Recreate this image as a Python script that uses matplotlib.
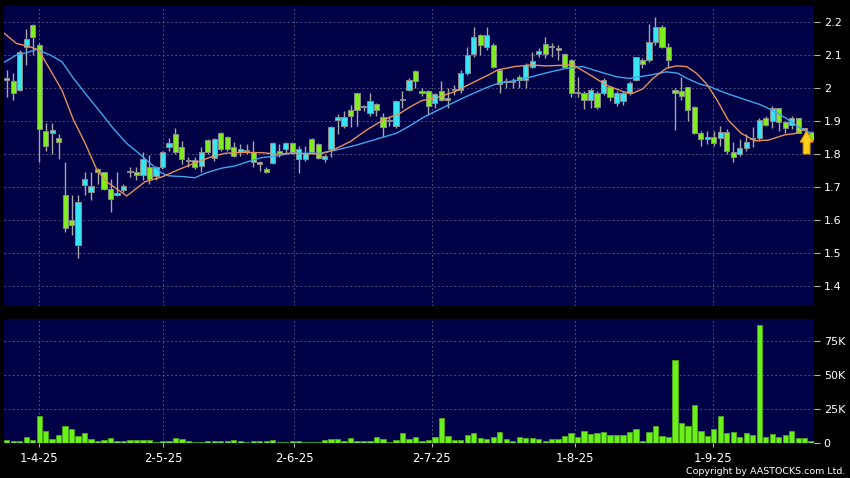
import numpy as np
import matplotlib
matplotlib.use('Agg')
import matplotlib.pyplot as plt
from matplotlib.patches import FancyArrow

# daily candles (oldest first)
opens = [2.03, 2.02, 1.995, 2.125, 2.19, 2.13, 1.87, 1.865, 1.85, 1.675,
         1.60, 1.525, 1.705, 1.685, 1.755, 1.745, 1.695, 1.675, 1.692, 1.744,
         1.745, 1.735, 1.762, 1.733, 1.762, 1.822, 1.862, 1.822, 1.782, 1.782,
         1.765, 1.842, 1.787, 1.863, 1.852, 1.822, 1.807, 1.811, 1.805, 1.773,
         1.755, 1.772, 1.806, 1.814, 1.832, 1.784, 1.784, 1.844, 1.83, 1.785,
         1.814, 1.903, 1.885, 1.933, 1.984, 1.944, 1.923, 1.952, 1.913, 1.901,
         1.885, 1.963, 1.994, 2.052, 1.992, 1.992, 1.955, 1.992, 1.967, 1.995,
         1.994, 2.045, 2.103, 2.16, 2.125, 2.13, 2.055, 2.02, 2.02, 2.032,
         2.024, 2.065, 2.103, 2.133, 2.126, 2.122, 2.103, 2.085, 1.986, 1.984,
         1.964, 1.984, 1.986, 2.002, 1.954, 1.961, 1.984, 2.024, 2.085, 2.085,
         2.14, 2.184, 2.123, 1.994, 1.992, 2.002, 1.943, 1.863, 1.845, 1.852,
         1.848, 1.868, 1.807, 1.80, 1.817, 1.845, 1.848, 1.908, 1.901, 1.938,
         1.898, 1.888, 1.908, 1.876, 1.868]
highs = [2.055, 2.045, 2.115, 2.18, 2.195, 2.135, 1.895, 1.895, 1.862, 1.775,
         1.675, 1.675, 1.745, 1.745, 1.758, 1.746, 1.725, 1.745, 1.71, 1.76,
         1.76, 1.805, 1.797, 1.765, 1.81, 1.85, 1.878, 1.84, 1.79, 1.79,
         1.82, 1.845, 1.85, 1.866, 1.855, 1.835, 1.83, 1.83, 1.84, 1.78,
         1.76, 1.835, 1.83, 1.835, 1.835, 1.825, 1.825, 1.847, 1.832, 1.80,
         1.885, 1.92, 1.93, 1.948, 1.985, 1.95, 1.985, 1.955, 1.923, 1.915,
         1.965, 1.99, 2.03, 2.055, 2.0, 1.994, 1.985, 2.02, 2.0, 2.01,
         2.055, 2.125, 2.186, 2.165, 2.186, 2.135, 2.057, 2.03, 2.03, 2.04,
         2.075, 2.11, 2.12, 2.155, 2.135, 2.13, 2.105, 2.087, 2.033, 1.99,
         2.0, 1.99, 2.03, 2.005, 1.99, 1.99, 2.02, 2.095, 2.09, 2.194,
         2.214, 2.19, 2.135, 1.999, 2.034, 2.003, 1.945, 1.87, 1.87, 1.87,
         1.885, 1.875, 1.837, 1.845, 1.86, 1.883, 1.91, 1.915, 1.945, 1.94,
         1.90, 1.915, 1.91, 1.88, 1.87]
lows = [1.973, 1.965, 1.99, 2.07, 2.10, 1.775, 1.81, 1.80, 1.785, 1.565,
        1.555, 1.485, 1.677, 1.66, 1.71, 1.69, 1.625, 1.672, 1.685, 1.73,
        1.72, 1.72, 1.71, 1.72, 1.755, 1.81, 1.80, 1.77, 1.76, 1.755,
        1.745, 1.80, 1.78, 1.81, 1.81, 1.79, 1.795, 1.80, 1.76, 1.75,
        1.743, 1.77, 1.79, 1.80, 1.80, 1.742, 1.78, 1.80, 1.785, 1.775,
        1.79, 1.86, 1.88, 1.883, 1.885, 1.93, 1.915, 1.915, 1.852, 1.885,
        1.88, 1.94, 1.99, 2.00, 1.975, 1.918, 1.94, 1.96, 1.94, 1.98,
        1.985, 2.04, 2.095, 2.10, 2.115, 2.06, 1.985, 2.0, 2.0, 2.0,
        2.0, 2.06, 2.095, 2.09, 2.095, 2.085, 2.06, 1.972, 1.973, 1.935,
        1.94, 1.935, 1.98, 1.96, 1.945, 1.95, 1.98, 2.02, 2.06, 2.08,
        2.13, 2.12, 2.06, 1.873, 1.964, 1.90, 1.86, 1.825, 1.83, 1.825,
        1.825, 1.80, 1.777, 1.795, 1.81, 1.822, 1.84, 1.885, 1.88, 1.87,
        1.865, 1.875, 1.863, 1.865, 1.84]
closes = [2.025, 1.985, 2.11, 2.15, 2.155, 1.875, 1.825, 1.872, 1.835, 1.575,
          1.585, 1.655, 1.723, 1.703, 1.745, 1.695, 1.665, 1.683, 1.704, 1.746,
          1.735, 1.785, 1.725, 1.762, 1.805, 1.832, 1.805, 1.785, 1.778, 1.762,
          1.805, 1.805, 1.844, 1.815, 1.815, 1.795, 1.814, 1.809, 1.775, 1.771,
          1.745, 1.832, 1.804, 1.832, 1.805, 1.814, 1.802, 1.807, 1.787, 1.794,
          1.883, 1.913, 1.913, 1.915, 1.933, 1.942, 1.961, 1.933, 1.883, 1.899,
          1.961, 1.965, 2.024, 2.022, 1.986, 1.945, 1.982, 1.964, 1.965, 1.993,
          2.045, 2.10, 2.154, 2.13, 2.16, 2.065, 2.012, 2.018, 2.018, 2.024,
          2.07, 2.083, 2.113, 2.103, 2.124, 2.115, 2.065, 1.986, 1.984, 1.964,
          1.994, 1.943, 2.024, 1.972, 1.984, 1.984, 2.014, 2.093, 2.073, 2.14,
          2.184, 2.123, 2.085, 1.986, 1.975, 1.933, 1.864, 1.845, 1.852, 1.832,
          1.868, 1.81, 1.79, 1.817, 1.837, 1.848, 1.903, 1.888, 1.938, 1.898,
          1.878, 1.908, 1.863, 1.874, 1.842]
# volume in thousands
volume = [2.4, 2.0, 2.0, 4.6, 2.4, 20.0, 9.0, 2.9, 5.8, 12.4,
          10.7, 5.6, 7.8, 3.4, 1.5, 2.2, 4.1, 1.5, 1.5, 2.2,
          2.2, 2.2, 2.4, 0.7, 2.0, 2.0, 3.7, 3.2, 1.5, 1.2,
          1.2, 1.5, 1.5, 1.7, 1.7, 2.2, 1.5, 1.0, 1.7, 1.7,
          1.7, 2.2, 1.0, 1.0, 1.5, 1.5, 0.7, 1.0, 1.0, 2.2,
          2.9, 3.4, 1.5, 3.7, 1.7, 2.0, 1.7, 4.9, 2.9, 0.7,
          2.7, 7.8, 3.4, 4.4, 1.7, 2.7, 4.6, 18.8, 5.1, 2.2,
          2.2, 5.8, 7.8, 3.7, 2.9, 4.6, 8.0, 3.4, 2.0, 4.6,
          3.7, 3.7, 3.4, 2.0, 2.9, 2.9, 5.6, 7.6, 4.4, 9.3,
          6.8, 7.3, 8.5, 5.8, 5.8, 5.8, 8.0, 10.2, 2.0, 8.0,
          12.4, 5.6, 4.6, 60.7, 14.9, 12.9, 28.3, 8.8, 5.4, 10.7,
          19.7, 7.8, 8.3, 4.4, 7.3, 5.8, 86.3, 4.9, 6.6, 4.9,
          6.3, 8.8, 3.9, 3.9, 1.7]

# moving averages (position in candle units, price)
ma_short_x = [-0.4, 1.5, 3.6, 4.9, 6.7, 8.5, 10.3, 12.1, 13.9, 15.4, 17.2, 18.5,
              19.5, 21.3, 24.0, 26.4, 28.5, 31.6, 33.6, 36.2, 39.3, 41.6, 43.7,
              48.3, 50.3, 52.9, 55.5, 58.0, 60.6, 62.1, 64.0, 66.5, 69.1, 71.6,
              74.2, 75.7, 78.3, 80.9, 83.0, 87.3, 89.9, 92.4, 95.0, 96.5, 98.1,
              99.6, 101.7, 103.2, 104.8, 106.3, 107.9, 109.6, 111.2, 113.2,
              115.3, 117.4, 119.9, 121.5, 123.2]
ma_short = [2.166, 2.135, 2.125, 2.115, 2.055, 1.994, 1.903, 1.832, 1.752, 1.716,
            1.691, 1.673, 1.688, 1.716, 1.731, 1.752, 1.769, 1.792, 1.802, 1.805,
            1.804, 1.800, 1.802, 1.800, 1.812, 1.837, 1.873, 1.903, 1.923, 1.942,
            1.962, 1.972, 1.989, 2.014, 2.039, 2.055, 2.065, 2.070, 2.067, 2.070,
            2.040, 2.009, 1.989, 1.984, 1.998, 2.029, 2.060, 2.067, 2.065, 2.045,
            2.012, 1.960, 1.903, 1.863, 1.840, 1.842, 1.858, 1.862, 1.876]
ma_long_x = [-0.4, 1.5, 3.1, 4.6, 6.7, 8.5, 10.3, 12.3, 14.4, 16.4, 18.5, 20.5,
             21.8, 23.9, 24.9, 27.5, 29.0, 30.6, 33.1, 35.2, 37.2, 39.3, 41.6,
             43.7, 48.3, 50.8, 53.9, 57.5, 60.1, 62.1, 64.4, 67.5, 70.6, 73.7,
             75.7, 78.8, 80.9, 83.0, 86.3, 88.8, 90.9, 94.0, 96.0, 99.1, 101.7,
             103.4, 104.8, 106.8, 108.4, 110.9, 113.5, 116.1, 118.0, 120.4,
             122.2, 124.0]
ma_long = [2.078, 2.100, 2.107, 2.117, 2.100, 2.080, 2.029, 1.979, 1.928, 1.878,
           1.832, 1.800, 1.777, 1.742, 1.734, 1.731, 1.728, 1.742, 1.757, 1.764,
           1.777, 1.789, 1.794, 1.802, 1.802, 1.812, 1.827, 1.848, 1.863, 1.885,
           1.913, 1.943, 1.972, 1.999, 2.014, 2.024, 2.034, 2.045, 2.060, 2.065,
           2.052, 2.034, 2.029, 2.039, 2.049, 2.045, 2.030, 2.012, 2.004, 1.984,
           1.967, 1.950, 1.933, 1.905, 1.880, 1.863]

date_pos = [5.0, 24.1, 44.3, 65.5, 87.6, 108.9]
date_labels = ['1-4-25', '2-5-25', '2-6-25', '2-7-25', '1-8-25', '1-9-25']
price_ticks = [1.4, 1.5, 1.6, 1.7, 1.8, 1.9, 2.0, 2.1, 2.2]
price_labels = ['1.4', '1.5', '1.6', '1.7', '1.8', '1.9', '2', '2.1', '2.2']
vol_ticks = [0, 25, 50, 75]
vol_labels = ['0', '25K', '50K', '75K']

bg = '#000046'
grid_kw = dict(color='#62628a', linestyle=(0, (2, 3)), linewidth=0.6)
up_col = '#36e4f2'
down_col = '#80ee1e'

o = np.array(opens); h = np.array(highs); l = np.array(lows); c = np.array(closes)
x = np.arange(len(o))
up = c >= o

fig = plt.figure(figsize=(8.5, 4.78), dpi=100, facecolor='black')
ax = fig.add_axes([4/850, 1 - 306/478, 810/850, 300/478], facecolor=bg)
axv = fig.add_axes([4/850, 1 - 443.3/478, 810/850, 124/478], facecolor=bg)

# candles
ax.vlines(x, l, h, color='#a8a8a8', lw=1, zorder=2)
bot = np.minimum(o, c)
hgt = np.maximum(np.abs(c - o), 0.004)
ax.bar(x[up], hgt[up], bottom=bot[up], width=0.8, color=up_col,
       edgecolor='#8c8c8c', lw=0.7, zorder=3)
ax.bar(x[~up], hgt[~up], bottom=bot[~up], width=0.8, color=down_col,
       edgecolor='#8c8c8c', lw=0.7, zorder=3)

ax.plot(ma_long_x, ma_long, color='#3ea6ec', lw=1, zorder=4)
ax.plot(ma_short_x, ma_short, color='#e8905a', lw=1, zorder=4)

arrow = FancyArrow(123.3, 1.800, 0, 0.070, width=1.05, head_width=2.0,
                   head_length=0.034, length_includes_head=True,
                   fc='#ffcf1a', ec='#d99600', lw=0.8, zorder=6)
ax.add_patch(arrow)

ax.set_xlim(-0.42, 124.44)
ax.set_ylim(1.3394, 2.2485)
ax.set_yticks(price_ticks)
ax.set_yticklabels(price_labels)
ax.set_xticks(date_pos)
ax.grid(True, **grid_kw)
ax.tick_params(axis='x', bottom=False, labelbottom=False)
ax.tick_params(axis='y', left=False, labelleft=False, right=True, labelright=True,
               length=4, width=0.8, color='#b0b0b0', labelcolor='white',
               labelsize=8, pad=3)

# volume
axv.bar(x, volume, width=0.82, color='#6cf01c', edgecolor='#4aa818', lw=0.6, zorder=3)
axv.set_xlim(-0.42, 124.44)
axv.set_ylim(0, 90.6)
axv.set_yticks(vol_ticks)
axv.set_yticklabels(vol_labels)
axv.set_xticks(date_pos)
axv.set_xticklabels(date_labels)
axv.grid(True, **grid_kw)
axv.tick_params(axis='y', left=False, labelleft=False, right=True, labelright=True,
                length=4, width=0.8, color='#b0b0b0', labelcolor='white',
                labelsize=8, pad=3)
axv.tick_params(axis='x', length=3, width=0.8, color='#b0b0b0',
                labelcolor='white', labelsize=8.5, pad=3)

for a in (ax, axv):
    a.set_axisbelow(True)
    for s in a.spines.values():
        s.set_visible(False)

fig.text(845/850, 1 - 471/478, 'Copyright by AASTOCKS.com Ltd.', color='white',
         fontsize=6.8, ha='right', va='center')

fig.savefig('out.png', dpi=100, facecolor='black')
